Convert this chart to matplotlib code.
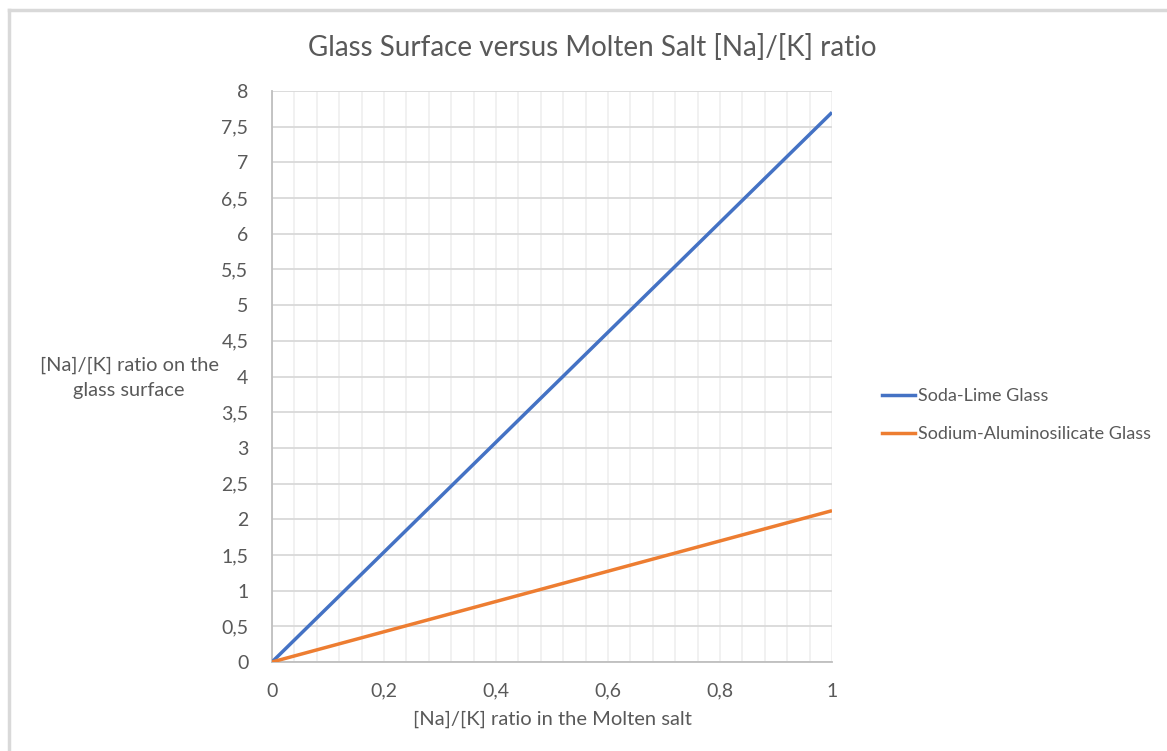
import matplotlib.pyplot as plt
from matplotlib.ticker import MultipleLocator, FuncFormatter
from matplotlib.lines import Line2D

plt.rcParams['font.family'] = ['Lato', 'DejaVu Sans']

# data
x = [0, 1]
soda_lime = [0, 7.7]
sodium_alumino = [0, 2.12]

title = 'Glass Surface versus Molten Salt [Na]/[K] ratio'
xlabel = '[Na]/[K] ratio in the Molten salt'
ylabel = '[Na]/[K] ratio on the\nglass surface'
labels = ['Soda-Lime Glass', 'Sodium-Aluminosilicate Glass']

txt = '#595959'
W, H = 1167, 751
fig = plt.figure(figsize=(W / 100, H / 100), dpi=100)
ax = fig.add_axes([272 / W, 1 - 662 / H, (832 - 272) / W, (662 - 91) / H])

ax.plot(x, soda_lime, color='#4472c4', lw=2.5, solid_capstyle='butt', zorder=3)
ax.plot(x, sodium_alumino, color='#ed7d31', lw=2.5, solid_capstyle='butt', zorder=3)

ax.set_xlim(0, 1)
ax.set_ylim(0, 8)
ax.xaxis.set_major_locator(MultipleLocator(0.2))
ax.xaxis.set_minor_locator(MultipleLocator(0.04))
ax.yaxis.set_major_locator(MultipleLocator(0.5))

comma = FuncFormatter(lambda v, p: ('%g' % round(v, 2)).replace('.', ','))
ax.xaxis.set_major_formatter(comma)
ax.yaxis.set_major_formatter(comma)

ax.grid(which='minor', axis='x', color='#f0f0f0', lw=1.3, zorder=0)
ax.grid(which='major', axis='x', color='#f0f0f0', lw=1.3, zorder=0)
ax.grid(which='major', axis='y', color='#d9d9d9', lw=1.3, zorder=1)
ax.set_axisbelow(True)

for s in ['top', 'right']:
    ax.spines[s].set_visible(False)
for s in ['left', 'bottom']:
    ax.spines[s].set_color('#bfbfbf')
    ax.spines[s].set_linewidth(1.3)

ax.tick_params(which='both', length=0, colors=txt, labelsize=14)
ax.tick_params(axis='x', pad=15)
ax.tick_params(axis='y', pad=17)

fig.text(592 / W, 1 - 47 / H, title, ha='center', va='center', color=txt, fontsize=20)
fig.text(552 / W, 1 - 719 / H, xlabel, ha='center', va='center', color=txt, fontsize=14.5)
fig.text(129 / W, 1 - 378 / H, ylabel, ha='center', va='center', color=txt, fontsize=14.4,
         linespacing=1.55)

handles = [Line2D([], [], color='#4472c4', lw=2.5),
           Line2D([], [], color='#ed7d31', lw=2.5)]
fig.legend(handles, labels, loc='center left', bbox_to_anchor=(875 / W, 1 - 415 / H),
           frameon=False, fontsize=13, labelcolor=txt, handlelength=1.8,
           handletextpad=0.2, labelspacing=1.2, borderaxespad=0)

# chart-area border
fig.add_artist(Line2D([9 / W, 9 / W], [0, 1 - 10 / H], color='#d9d9d9', lw=2.5,
                      transform=fig.transFigure))
fig.add_artist(Line2D([9 / W, 1], [1 - 10 / H, 1 - 10 / H], color='#d9d9d9', lw=2.5,
                      transform=fig.transFigure))

fig.savefig('out.png', dpi=100)
